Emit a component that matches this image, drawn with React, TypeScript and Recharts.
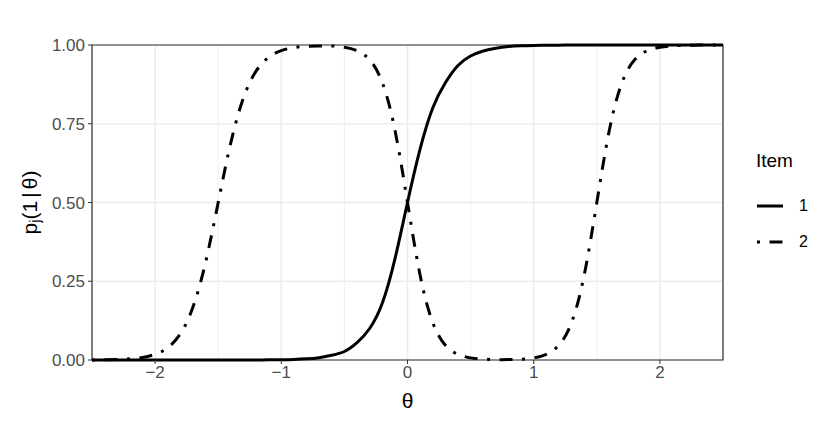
import { LineChart, Line, XAxis, YAxis, CartesianGrid, ReferenceArea } from "recharts"

const FONT = "'Liberation Sans', Arial, sans-serif"

// ability grid (theta) and the two item response curves
const theta = [
  -2.5, -2.4, -2.3, -2.2, -2.1, -2.0, -1.9, -1.8, -1.7, -1.6, -1.5,
  -1.4, -1.3, -1.2, -1.1, -1.0, -0.9, -0.8, -0.7, -0.6, -0.5,
  -0.4, -0.3, -0.2, -0.1, 0, 0.1, 0.2, 0.3, 0.4, 0.5,
  0.6, 0.7, 0.8, 0.9, 1.0, 1.1, 1.2, 1.3, 1.4, 1.5,
  1.6, 1.7, 1.8, 1.9, 2.0, 2.1, 2.2, 2.3, 2.4, 2.5,
]

const item1 = [
  0, 0, 0, 0, 0, 0, 0, 0, 0, 0, 0,
  0.0001, 0.0001, 0.0002, 0.0005, 0.0009, 0.0018, 0.0037, 0.0074, 0.015, 0.027,
  0.055, 0.1, 0.18, 0.32, 0.5, 0.67, 0.8, 0.88, 0.935, 0.965,
  0.981, 0.99, 0.995, 0.9975, 0.9987, 0.9993, 0.9996, 0.9998, 0.9999, 1,
  1, 1, 1, 1, 1, 1, 1, 1, 1, 1,
]

const item2 = [
  0.0003, 0.0007, 0.0017, 0.0037, 0.0082, 0.018, 0.039, 0.083, 0.168, 0.31, 0.5,
  0.69, 0.832, 0.917, 0.961, 0.982, 0.992, 0.996, 0.997, 0.997, 0.993,
  0.982, 0.953, 0.881, 0.731, 0.5, 0.269, 0.119, 0.047, 0.018, 0.0067,
  0.0026, 0.0012, 0.0012, 0.0025, 0.0067, 0.018, 0.047, 0.119, 0.269, 0.5,
  0.731, 0.881, 0.953, 0.982, 0.993, 0.9975, 0.9991, 0.9997, 0.9999, 1,
]

const xTicks = [-2, -1, 0, 1, 2]
const yTicks = [0, 0.25, 0.5, 0.75, 1]
const xMinor = [-1.5, -0.5, 0.5, 1.5]
const yMinor = [0.125, 0.375, 0.625, 0.875]

const DOTDASH = "3 9.5 13 9.5"

const series = [
  { key: "item1", name: "1", dash: undefined as string | undefined },
  { key: "item2", name: "2", dash: DOTDASH },
]

const data = theta.map((t, i) => ({ theta: t, item1: item1[i], item2: item2[i] }))

const fmtX = (v: number) => (v < 0 ? "\u2212" + Math.abs(v) : String(v))
const fmtY = (v: number) => v.toFixed(2)

const XTitle = ({ viewBox }: any) => (
  <text
    x={viewBox.x + viewBox.width / 2}
    y={408}
    textAnchor="middle"
    fontSize={21}
    fontFamily={FONT}
    fill="#000"
  >
    θ
  </text>
)

const YTitle = ({ viewBox }: any) => {
  const cy = viewBox.y + viewBox.height / 2
  return (
    <text
      x={29}
      y={cy}
      transform={`rotate(-90 29 ${cy})`}
      textAnchor="middle"
      dominantBaseline="central"
      fontSize={21}
      fontFamily={FONT}
      fill="#000"
    >
      p<tspan dy={5} fontSize={15}>j</tspan>
      <tspan dy={-5}>(1</tspan>
      <tspan dx={3}>|</tspan>
      <tspan dx={3}>θ)</tspan>
    </text>
  )
}

function ItemLegend() {
  return (
    <div style={{ position: "absolute", left: 756, top: 150, fontFamily: FONT, color: "#000" }}>
      <div style={{ fontSize: 19, lineHeight: "22px", marginBottom: 16 }}>Item</div>
      {series.map((s) => (
        <div key={s.key} style={{ display: "flex", alignItems: "center", height: 36 }}>
          <svg width={28} height={12}>
            <line x1={1} x2={27} y1={6} y2={6} stroke="#000" strokeWidth={3} strokeDasharray={s.dash} />
          </svg>
          <span style={{ fontSize: 16, marginLeft: 15 }}>{s.name}</span>
        </div>
      ))}
    </div>
  )
}

export default function App() {
  return (
    <div style={{ position: "absolute", left: 0, top: 0, width: 830, height: 423, background: "#fff" }}>
      <LineChart width={830} height={423} data={data} margin={{ top: 45, right: 107, bottom: 0, left: 0 }}>
        <XAxis xAxisId="minor" dataKey="theta" type="number" domain={[-2.5, 2.5]} ticks={xMinor} hide />
        <YAxis yAxisId="minor" type="number" domain={[0, 1]} ticks={yMinor} hide />
        <CartesianGrid xAxisId="minor" yAxisId="minor" stroke="#EBEBEB" strokeWidth={0.8} />
        <CartesianGrid stroke="#EBEBEB" strokeWidth={1.5} />
        <XAxis
          dataKey="theta"
          type="number"
          domain={[-2.5, 2.5]}
          ticks={xTicks}
          tickFormatter={fmtX}
          height={63}
          axisLine={false}
          tickLine={{ stroke: "#333333" }}
          tickSize={4}
          tickMargin={2}
          tick={{ fill: "#4D4D4D", fontSize: 17, fontFamily: FONT }}
          label={<XTitle />}
        />
        <YAxis
          type="number"
          domain={[0, 1]}
          ticks={yTicks}
          tickFormatter={fmtY}
          width={92}
          axisLine={false}
          tickLine={{ stroke: "#333333" }}
          tickSize={4}
          tickMargin={3}
          tick={{ fill: "#4D4D4D", fontSize: 17, fontFamily: FONT }}
          label={<YTitle />}
        />
        {series.map((s) => (
          <Line
            key={s.key}
            dataKey={s.key}
            name={s.name}
            type="natural"
            stroke="#000"
            strokeWidth={3}
            strokeDasharray={s.dash}
            dot={false}
            activeDot={false}
            isAnimationActive={false}
          />
        ))}
        <ReferenceArea x1={-2.5} x2={2.5} y1={0} y2={1} fill="none" stroke="#333333" strokeWidth={1.2} />
      </LineChart>
      <ItemLegend />
    </div>
  )
}
